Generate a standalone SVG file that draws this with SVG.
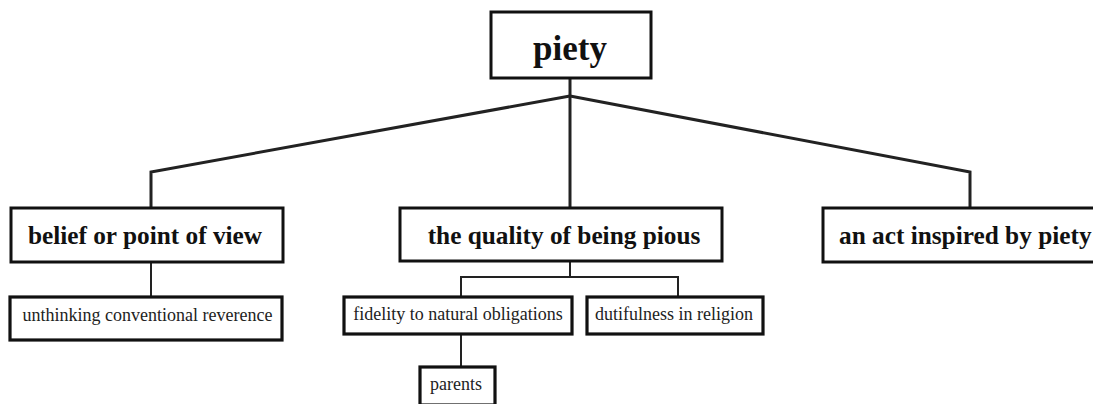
<svg xmlns="http://www.w3.org/2000/svg" width="1093" height="404" viewBox="0 0 1093 404">
<style>
.box{fill:#fff;stroke:#111;stroke-width:3}
.cbox{fill:#fff;stroke:#111;stroke-width:3.2}
.t1{font-family:"Liberation Serif","Times New Roman",serif;font-weight:bold;fill:#111;text-anchor:middle}
.t2{font-family:"Liberation Serif","Times New Roman",serif;font-size:18px;fill:#222;text-anchor:middle}
.c1{fill:none;stroke:#222;stroke-width:3;stroke-linejoin:miter}
.c2{fill:none;stroke:#222;stroke-width:2}
</style>
<rect width="1093" height="404" fill="#fff"/>
<g id="connectors">
<path class="c1" d="M570 78 V208"/>
<path class="c1" d="M570 96 L151 172 V208"/>
<path class="c1" d="M570 96 L970 172 V208"/>
<path class="c2" d="M151 262 V297"/>
<path class="c2" d="M570 261 V277 M461 297 V277 H678 V297"/>
<path class="c2" d="M461 334 V367"/>
</g>
<g id="piety">
<rect class="box" x="491" y="12" width="160" height="66"/>
<text class="t1" x="570" y="60" font-size="35">piety</text>
</g>
<g id="belief">
<rect class="box" x="11" y="208" width="272" height="54"/>
<text class="t1" x="145" y="244" font-size="25.3">belief or point of view</text>
</g>
<g id="quality">
<rect class="box" x="400" y="208" width="322" height="53"/>
<text class="t1" x="564" y="244" font-size="25.3">the quality of being pious</text>
</g>
<g id="act">
<rect class="box" x="823" y="208" width="290" height="54"/>
<text class="t1" x="839" y="244" font-size="25.3" style="text-anchor:start">an act inspired by piety</text>
</g>
<g id="unthinking">
<rect class="cbox" x="10" y="297" width="272" height="43"/>
<text class="t2" x="147.5" y="321">unthinking conventional reverence</text>
</g>
<g id="fidelity">
<rect class="cbox" x="344" y="297" width="228" height="37"/>
<text class="t2" x="458" y="320">fidelity to natural obligations</text>
</g>
<g id="dutifulness">
<rect class="cbox" x="587" y="297" width="176" height="37"/>
<text class="t2" x="674" y="320">dutifulness in religion</text>
</g>
<g id="parents">
<rect class="cbox" x="420" y="367" width="75" height="38"/>
<text class="t2" x="456" y="390">parents</text>
</g>
</svg>
